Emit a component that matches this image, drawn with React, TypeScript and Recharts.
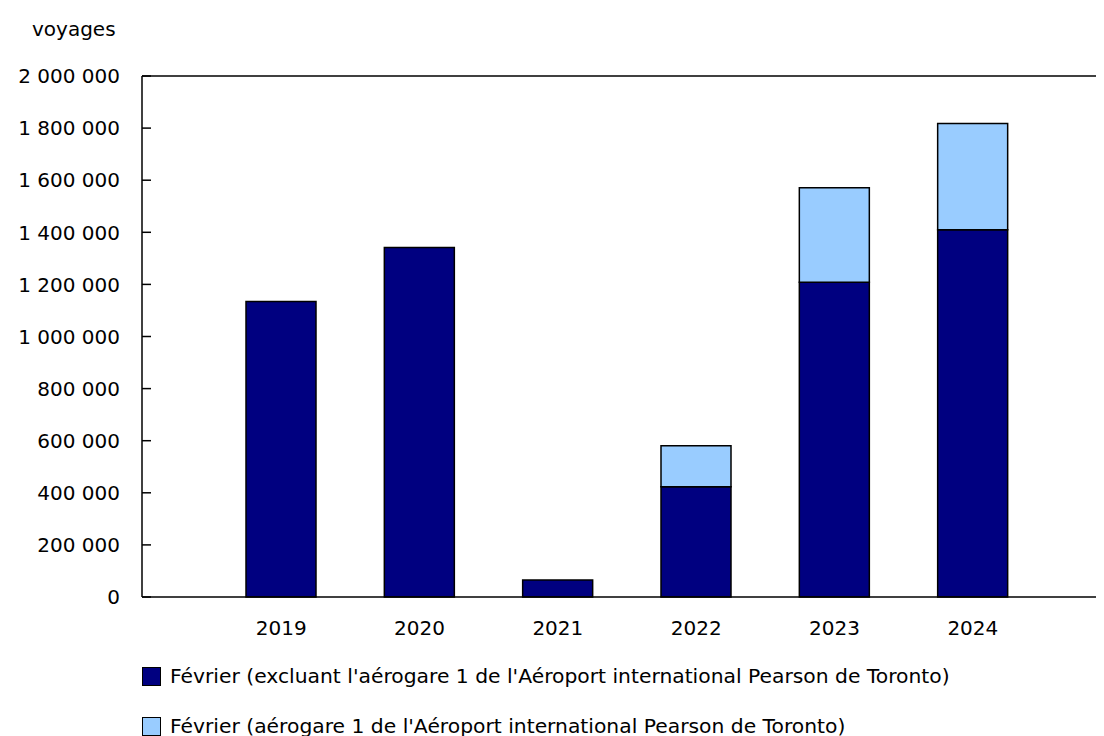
import React from "react";
import {
  BarChart,
  Bar,
  XAxis,
  YAxis,
  Legend,
  ReferenceLine,
} from "recharts";

const years = ["2019", "2020", "2021", "2022", "2023", "2024"];
const excluantT1 = [1134000, 1342000, 65000, 423000, 1208000, 1410000];
const aerogareT1 = [0, 0, 0, 158000, 363000, 408000];
const yTicks = [0, 200000, 400000, 600000, 800000, 1000000, 1200000, 1400000, 1600000, 1800000, 2000000];

const nameExcl =
  "Février (excluant l'aérogare 1 de l'Aéroport international Pearson de Toronto)";
const nameT1 = "Février (aérogare 1 de l'Aéroport international Pearson de Toronto)";

const DARK = "#000080";
const LIGHT = "#99CCFF";
const FONT = "'DejaVu Sans', Verdana, sans-serif";
const FS = 20;

const data = years.map((y, i) => ({
  year: y,
  excl: excluantT1[i],
  t1: aerogareT1[i],
}));

const fmt = (v: number) => String(v).replace(/\B(?=(\d{3})+(?!\d))/g, " ");

const YTick = (props: any) => {
  const { x, y, payload } = props;
  const axisX = x + 22;
  return (
    <g>
      <text x={x} y={y} dy="0.36em" textAnchor="end" fill="#000" fontSize={FS} fontFamily={FONT}>
        {fmt(payload.value)}
      </text>
      <line x1={axisX} x2={axisX + 9} y1={y} y2={y} stroke="#000" strokeWidth={1.5} />
    </g>
  );
};

const renderLegend = () => {
  const items = [
    { name: nameExcl, color: DARK },
    { name: nameT1, color: LIGHT },
  ];
  return (
    <div style={{ fontFamily: FONT, fontSize: 20.3, color: "#000" }}>
      {items.map((it) => (
        <div
          key={it.name}
          style={{ display: "flex", alignItems: "center", height: 20, marginBottom: 30, whiteSpace: "nowrap" }}
        >
          <span
            style={{
              display: "inline-block",
              width: 17,
              height: 17,
              background: it.color,
              border: "1.5px solid #000",
              marginRight: 9,
            }}
          />
          <span>{it.name}</span>
        </div>
      ))}
    </div>
  );
};

export default function App() {
  return (
    <div style={{ position: "relative", width: 1096, height: 728 }}>
      <div
        style={{
          position: "absolute",
          left: 24,
          top: 9,
          fontFamily: FONT,
          fontSize: FS,
          color: "#000",
        }}
      >
        voyages
      </div>
      <BarChart
        width={1096}
        height={728}
        data={data}
        margin={{ top: 68, right: 0, bottom: 109, left: 0 }}
      >
        <XAxis
          dataKey="year"
          padding={{ left: 70, right: 62 }}
          tickLine={false}
          tickSize={0}
          tickMargin={24}
          axisLine={{ stroke: "#000", strokeWidth: 1.5 }}
          tick={{ fill: "#000", fontSize: FS, fontFamily: FONT }}
          interval={0}
        />
        <YAxis
          width={134}
          domain={[0, 2000000]}
          ticks={yTicks}
          tickLine={false}
          tickSize={0}
          tickMargin={22}
          axisLine={{ stroke: "#000", strokeWidth: 1.5 }}
          tick={<YTick />}
          interval={0}
        />
        <ReferenceLine y={2000000} stroke="#000" strokeWidth={1.5} />
        <Legend
          layout="vertical"
          align="center"
          verticalAlign="middle"
          wrapperStyle={{ left: 134, top: 658, width: 950 }}
          content={renderLegend}
        />
        <Bar
          dataKey="excl"
          name={nameExcl}
          stackId="a"
          fill={DARK}
          stroke="#000"
          strokeWidth={1.5}
          barSize={70}
          isAnimationActive={false}
        />
        <Bar
          dataKey="t1"
          name={nameT1}
          stackId="a"
          fill={LIGHT}
          stroke="#000"
          strokeWidth={1.5}
          barSize={70}
          isAnimationActive={false}
        />
      </BarChart>
    </div>
  );
}
